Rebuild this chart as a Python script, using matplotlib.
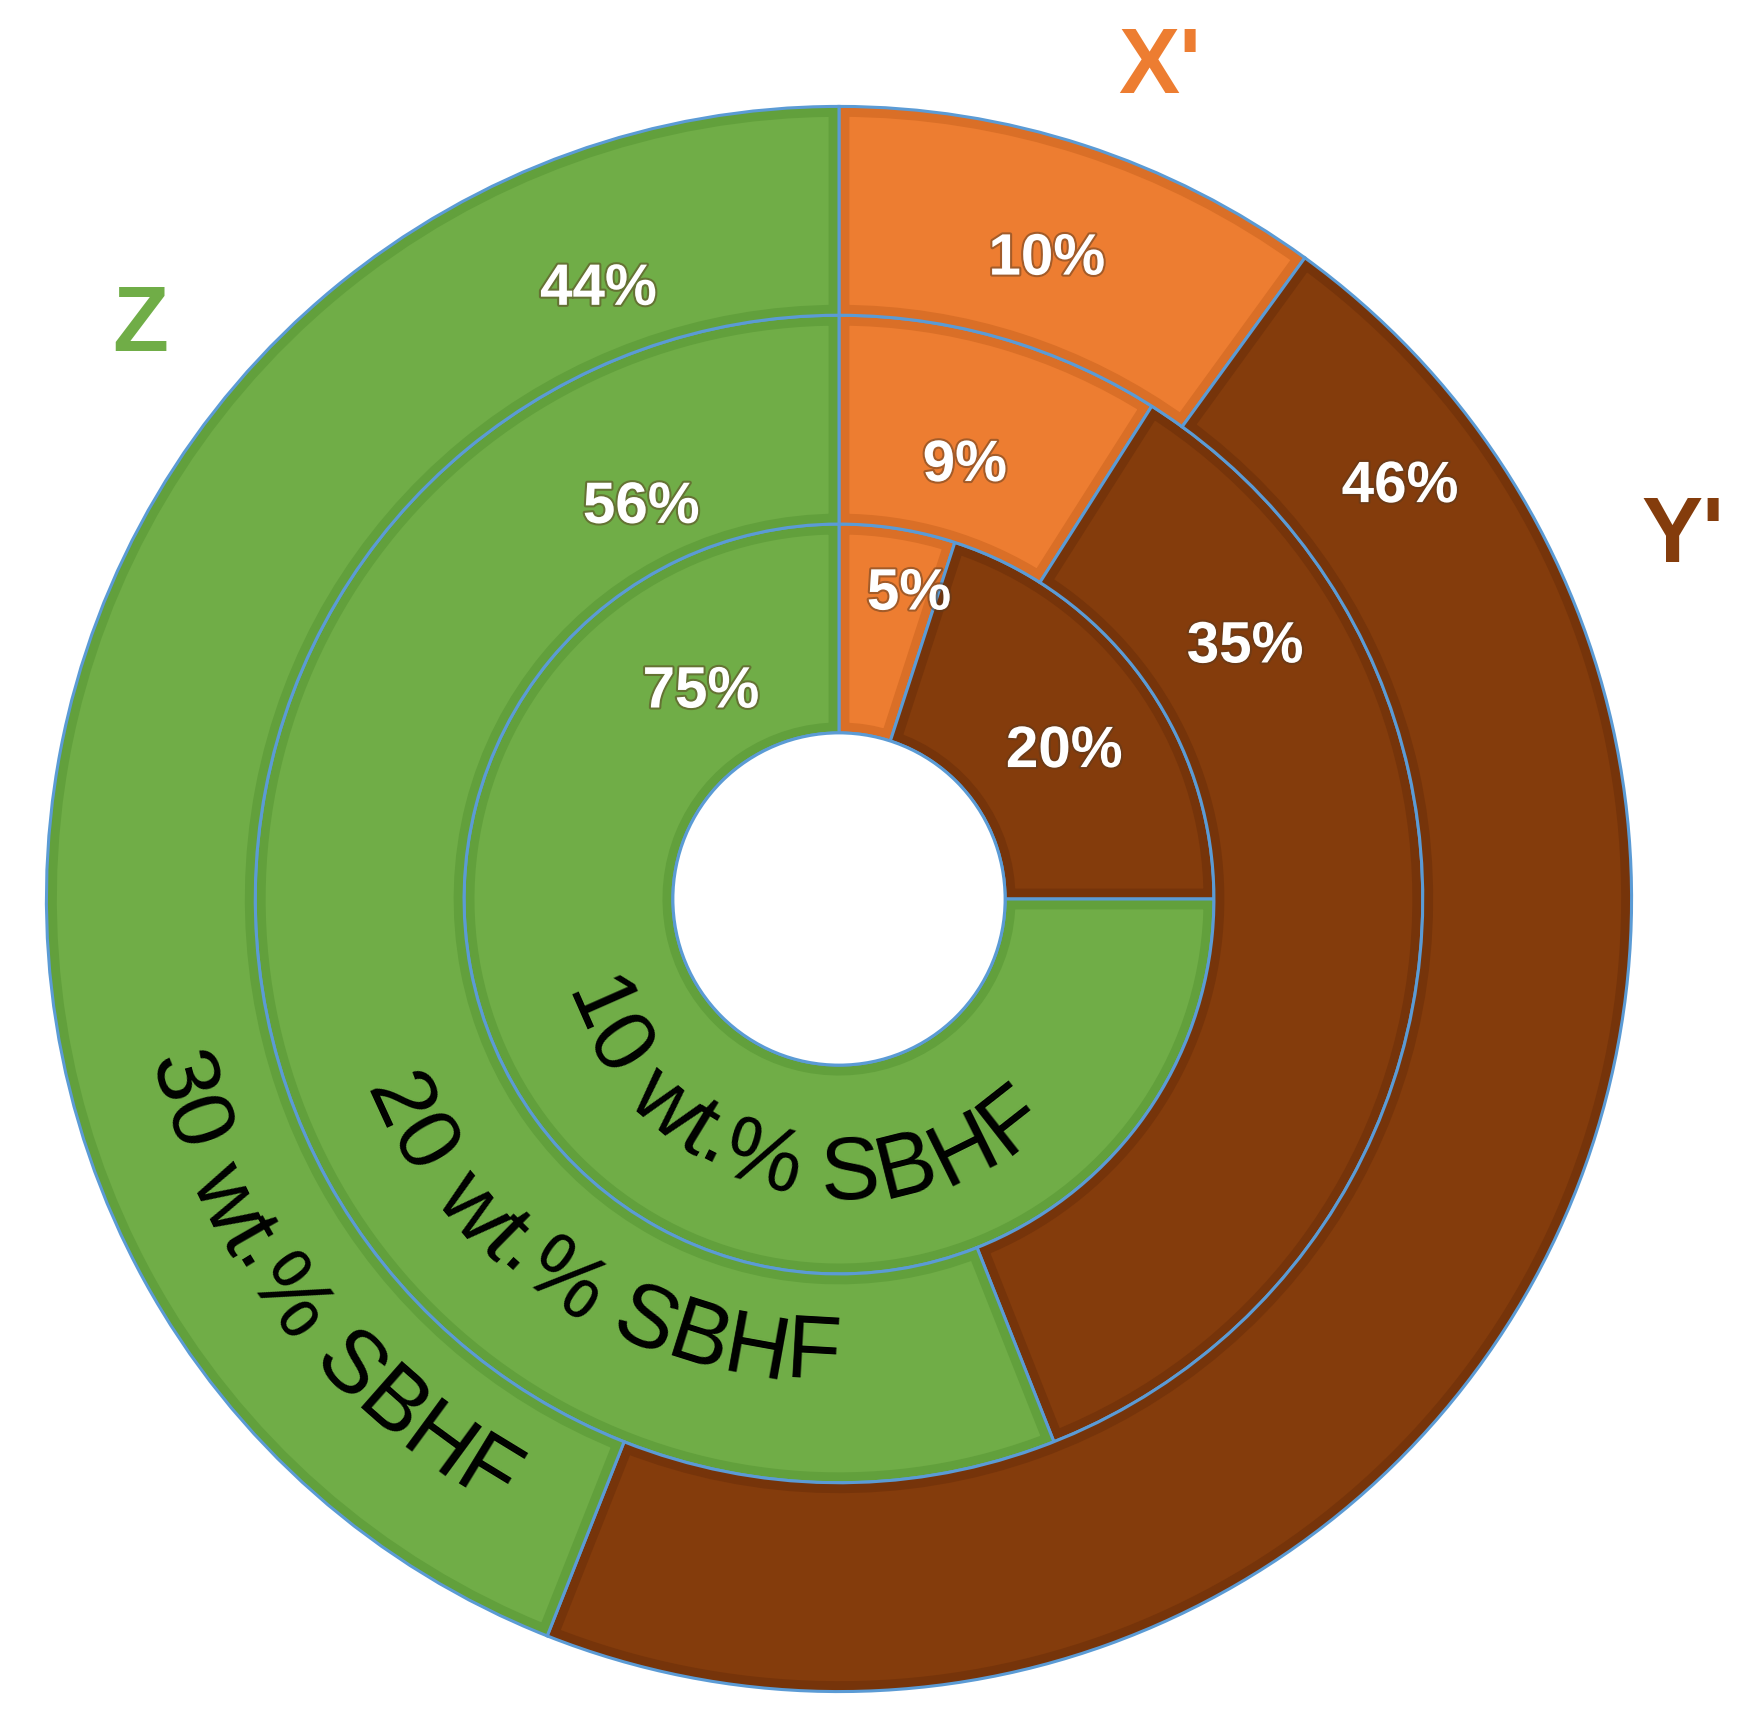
import numpy as np
import matplotlib.pyplot as plt
from matplotlib.patches import Wedge, Circle
import matplotlib.patheffects as pe
from matplotlib.font_manager import FontProperties

plt.rcParams['font.family'] = ['Liberation Sans', 'DejaVu Sans']

# data: share of each component per SBHF loading (inner ring -> outer ring)
components = ["X'", "Y'", "Z"]
ring_names = ['10 wt.% SBHF', '20 wt.% SBHF', '30 wt.% SBHF']
sbhf10 = [5, 20, 75]
sbhf20 = [9, 35, 56]
sbhf30 = [10, 46, 44]
rings = [sbhf10, sbhf20, sbhf30]

face_cols = ['#ED7D31', '#843C0C', '#70AD47']
band_cols = ['#DA6F27', '#76340A', '#62A03C']
name_cols = ['#ED7D31', '#843C0C', '#70AD47']
edge_col = '#5B9BD5'

# layout
px = 791.0              # pixels per data unit (outer radius)
hole = 0.21
ring_w = 0.264
# where the % label sits inside each wedge (fraction clockwise from start, radius)
lab_frac = [[0.72, 0.54, 0.875], [0.5, 0.205, 0.867], [0.5, 0.107, 0.864]]
lab_rad = [[0.395, 0.34, 0.314], [0.57, 0.604, 0.554], [0.85, 0.88, 0.828]]
# curved ring names: radius at first/last char, angle at first/last char
name_arc = [(0.344, 0.364, -156.2, -51.9),
            (0.624, 0.585, -155.3, -93.3),
            (0.873, 0.864, -164.8, -121.4)]

fig = plt.figure(figsize=(17.57, 17.35), dpi=100)
ax = fig.add_axes([0, 0, 1, 1])

for k, vals in enumerate(rings):
    R = hole + ring_w * (k + 1)
    wedges, _ = ax.pie(vals, radius=R, startangle=90, counterclock=False,
                       colors=face_cols, wedgeprops=dict(width=ring_w, linewidth=0))
    for j, w in enumerate(wedges):
        band = Wedge(w.center, w.r, w.theta1, w.theta2, width=w.width,
                     facecolor='none', edgecolor=band_cols[j], linewidth=15)
        band.set_clip_path(w)
        ax.add_patch(band)
        ax.add_patch(Wedge(w.center, w.r, w.theta1, w.theta2, width=w.width,
                           facecolor='none', edgecolor=edge_col, linewidth=2.2))
        a = np.deg2rad(w.theta2 - lab_frac[k][j] * (w.theta2 - w.theta1))
        r = lab_rad[k][j]
        ax.text(r * np.cos(a), r * np.sin(a), f'{vals[j]}%', color='white',
                fontsize=42, fontweight='bold', ha='center', va='center',
                path_effects=[pe.withStroke(linewidth=3, foreground='#5a3a20', alpha=0.5)])

ax.add_patch(Circle((0, 0), hole, facecolor='white', edgecolor=edge_col, linewidth=2.2))

# curved ring names
rend = fig.canvas.get_renderer()
fp = FontProperties(family='Liberation Sans', size=64)


def adv(s):
    w_ref = rend.get_text_width_height_descent('I', fp, ismath=False)[0]
    return rend.get_text_width_height_descent(s + 'I', fp, ismath=False)[0] - w_ref


for name, (r0, r1, t0, t1) in zip(ring_names, name_arc):
    cen = [0.5 * (adv(name[:i]) + adv(name[:i + 1])) for i in range(len(name))]
    for i, ch in enumerate(name):
        f = (cen[i] - cen[0]) / (cen[-1] - cen[0])
        th = t0 + f * (t1 - t0)
        rb = r0 + f * (r1 - r0) + 0.022
        t = np.deg2rad(th)
        ax.text(rb * np.cos(t), rb * np.sin(t), ch, fontproperties=fp, color='black',
                rotation=th + 90, rotation_mode='anchor', ha='center', va='baseline')

# component names
name_pos = [(0.406, 1.049), (1.067, 0.456), (-0.884, 0.723)]
for name, col, (x, y) in zip(components, name_cols, name_pos):
    ax.text(x, y, name, color=col, fontsize=66, fontweight='bold', ha='center', va='center')

ax.set_xlim(-839 / px, (1757 - 839) / px)
ax.set_ylim(-(1735 - 899) / px, 899 / px)
ax.set_aspect('equal')
ax.axis('off')
fig.savefig('out.png', dpi=100)
